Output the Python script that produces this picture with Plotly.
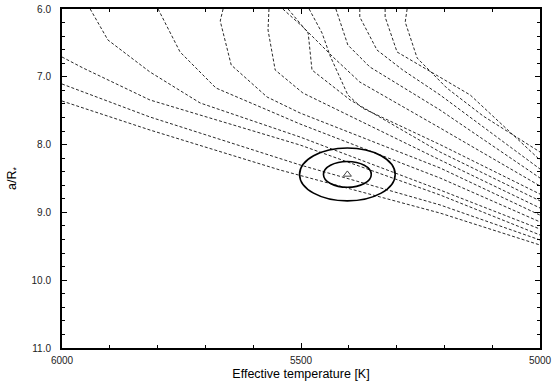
import plotly.graph_objects as go

# Isochrone-like dashed tracks: effective temperature [K] and a/R*
line_teff = [
    [6000, 5816, 5544, 5209, 5000],                          # L3
    [6000, 5816, 5502, 5209, 5000],                          # L2
    [6000, 5956, 5816, 5502, 5209, 5000],                    # L1
    [5941, 5904, 5816, 5711, 5502, 5209, 5000],              # A
    [5799, 5753, 5678, 5502, 5209, 5000],                    # B
    [5663, 5669, 5646, 5571, 5502, 5209, 5000],              # C
    [5567, 5569, 5554, 5496, 5209, 5000],                    # D
    [5527, 5496, 5485, 5477, 5397, 5209, 5000],              # F
    [5483, 5456, 5439, 5402, 5372, 5209, 5000],              # G
    [5538, 5496, 5433, 5377, 5209, 5000],                    # E
    [5427, 5402, 5356, 5209, 5000],                          # H
    [5377, 5377, 5341, 5287, 5209, 5000],                    # I
    [5324, 5324, 5299, 5245, 5146, 5000],                    # J
    [5278, 5282, 5257, 5195, 5119, 5000],                    # K
]
line_ar = [
    [7.357, 7.785, 8.375, 9.01, 9.481],
    [7.106, 7.593, 8.30, 8.89, 9.407],
    [6.708, 6.870, 7.342, 8.006, 8.743, 9.333],
    [6.00, 6.457, 6.929, 7.386, 7.888, 8.67, 9.245],
    [6.00, 6.634, 7.165, 7.696, 8.493, 9.14],
    [6.00, 6.177, 6.826, 7.298, 7.534, 8.345, 9.04],
    [6.00, 6.31, 6.90, 7.239, 8.227, 8.935],
    [6.00, 6.251, 6.354, 6.90, 7.342, 8.11, 8.83],
    [6.00, 6.354, 6.693, 7.268, 7.46, 8.00, 8.73],
    [6.00, 6.265, 6.708, 7.077, 7.755, 8.61],
    [6.00, 6.531, 6.855, 7.49, 8.493],
    [6.00, 6.118, 6.605, 6.90, 7.268, 8.36],
    [6.00, 6.118, 6.634, 6.855, 7.268, 8.227],
    [6.00, 6.192, 6.723, 7.165, 7.578, 8.109],
]

# Best-fit point and confidence ellipses
best_teff = [5403]
best_ar = [8.44]
ell_dteff = [50, 100]
ell_dar = [0.19, 0.39]

x_ticks = [6000, 5500, 5000]
y_ticks = [6.0, 7.0, 8.0, 9.0, 10.0, 11.0]

FONT = "Liberation Sans, Arial, sans-serif"

fig = go.Figure()
for tx, ty in zip(line_teff, line_ar):
    fig.add_trace(go.Scatter(x=tx, y=ty, mode="lines",
                             line=dict(color="#111111", width=0.9, dash="3px,2px"),
                             showlegend=False, hoverinfo="skip"))

for dx, dy in zip(ell_dteff, ell_dar):
    fig.add_shape(type="circle", xref="x", yref="y",
                  x0=best_teff[0] - dx, x1=best_teff[0] + dx,
                  y0=best_ar[0] - dy, y1=best_ar[0] + dy,
                  line=dict(color="black", width=1.6))

fig.add_trace(go.Scatter(x=best_teff, y=best_ar, mode="markers",
                         marker=dict(symbol="triangle-up-open", size=7,
                                     color="#444444", line=dict(width=1)),
                         showlegend=False))

axis_common = dict(showline=True, linecolor="black", linewidth=2, mirror="allticks",
                   ticks="inside", ticklen=5, tickwidth=1, tickcolor="black",
                   showgrid=False, zeroline=False, automargin=False,
                   tickfont=dict(family=FONT, size=10, color="#222222"))

fig.update_xaxes(range=[6000, 5000], tickvals=x_ticks, ticktext=[str(v) for v in x_ticks],
                 minor=dict(dtick=100, ticks="inside", ticklen=3, tickcolor="black"),
                 title=dict(text="Effective temperature [K]", standoff=4,
                            font=dict(family=FONT, size=12.5, color="black")),
                 ticklabelstandoff=2,
                 **axis_common)
fig.update_yaxes(range=[11, 6], tickvals=y_ticks, ticktext=["%.1f" % v for v in y_ticks],
                 minor=dict(dtick=0.2, ticks="inside", ticklen=3, tickcolor="black"),
                 title=dict(text="a/R<sub>*</sub>", standoff=12,
                            font=dict(family=FONT, size=12.5, color="black")),
                 ticklabelstandoff=7,
                 **axis_common)

fig.update_layout(width=553, height=385, margin=dict(l=62, r=13, t=9, b=37),
                  plot_bgcolor="white", paper_bgcolor="white")

fig.write_html("out.html", config={"displayModeBar": False},
               post_script="document.body.style.margin='0px';document.body.style.overflow='hidden';")
